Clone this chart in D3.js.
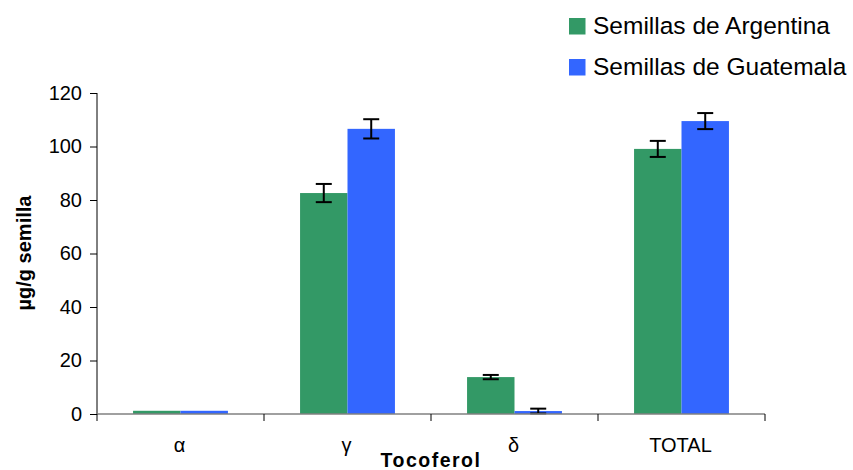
<!DOCTYPE html>
<html><head><meta charset="utf-8">
<script src="https://cdn.jsdelivr.net/npm/d3@7"></script>
<style>body{margin:0;background:#fff}svg{display:block;font-family:"Liberation Sans",Arial,sans-serif}</style>
</head><body><svg id="c" width="853" height="470"></svg>
<script>
const categories = ["α", "γ", "δ", "TOTAL"];
const seriesNames = ["Semillas de Argentina", "Semillas de Guatemala"];
const argentina = [1.2, 82.6, 13.8, 99.1];
const guatemala = [1.2, 106.6, 1.1, 109.5];
const argentinaErr = [0, 3.4, 0.8, 3.0];
const guatemalaErr = [0, 3.6, 0.9, 3.0];
const yTicks = [0, 20, 40, 60, 80, 100, 120];
const colors = ["#339966", "#3366FF"];

(function () {
const svg = d3.select("#c");
const mLeft = 97, mRight = 765, mTop = 93, mBottom = 414;
const x = d3.scaleBand().domain(categories).range([mLeft, mRight]).paddingInner(0).paddingOuter(0);
const xs = d3.scaleBand().domain([0, 1]).range([0, x.bandwidth()]).paddingInner(0).paddingOuter(0.76);
const y = d3.scaleLinear().domain([0, 120]).range([mBottom, mTop]);

const series = [argentina, guatemala];
const errs = [argentinaErr, guatemalaErr];

series.forEach((vals, si) => {
  svg.append("g").selectAll("rect").data(vals).join("rect")
    .attr("x", (d, i) => x(categories[i]) + xs(si))
    .attr("width", xs.bandwidth())
    .attr("y", d => y(d))
    .attr("height", d => y(0) - y(d))
    .attr("fill", colors[si]);
});

series.forEach((vals, si) => {
  const g = svg.append("g").attr("stroke", "#000").attr("stroke-width", 2);
  vals.forEach((v, i) => {
    const e = errs[si][i];
    if (!e) return;
    const cx = x(categories[i]) + xs(si) + xs.bandwidth() / 2;
    g.append("line").attr("x1", cx).attr("x2", cx).attr("y1", y(v + e)).attr("y2", y(v - e));
    g.append("line").attr("x1", cx - 8).attr("x2", cx + 8).attr("y1", y(v + e)).attr("y2", y(v + e));
    g.append("line").attr("x1", cx - 8).attr("x2", cx + 8).attr("y1", y(v - e)).attr("y2", y(v - e));
  });
});

const yAxis = d3.axisLeft(y).tickValues(yTicks).tickSize(7).tickPadding(8);
const ya = svg.append("g").attr("transform", `translate(${mLeft},0)`).call(yAxis);
ya.select(".domain").attr("stroke", "#000").attr("d", `M0,${mTop}V${mBottom}`);
ya.selectAll(".tick line").attr("stroke", "#000");
ya.selectAll("text").attr("font-size", 20).attr("fill", "#000").attr("font-family", "Liberation Sans, Arial, sans-serif");

const xa = svg.append("g").attr("transform", `translate(0,${mBottom})`);
xa.append("line").attr("x1", mLeft).attr("x2", mRight).attr("y1", 0).attr("y2", 0).attr("stroke", "#808080").attr("stroke-width", 1.5);
const bounds = categories.map(c => x(c)).concat([mRight]);
xa.selectAll("line.t").data(bounds).join("line").attr("class", "t")
  .attr("x1", d => d).attr("x2", d => d).attr("y1", 0).attr("y2", 7).attr("stroke", "#000");
xa.selectAll("text").data(categories).join("text")
  .attr("x", d => x(d) + x.bandwidth() / 2 - 1).attr("y", 38)
  .attr("text-anchor", "middle").attr("font-size", 20).text(d => d);

svg.append("text").attr("x", 431).attr("y", 467).attr("text-anchor", "middle")
  .attr("font-size", 19.5).attr("font-weight", "bold").attr("letter-spacing", 1.5).text("Tocoferol");
svg.append("text").attr("transform", "translate(31,253) rotate(-90)").attr("text-anchor", "middle")
  .attr("font-size", 20).attr("font-weight", "bold").text("µg/g semilla");

const lg = svg.append("g");
seriesNames.forEach((n, i) => {
  const yy = 18 + i * 41;
  lg.append("rect").attr("x", 569).attr("y", yy).attr("width", 16.5).attr("height", 16.5).attr("fill", colors[i]);
  lg.append("text").attr("x", 593).attr("y", yy + 15.5).attr("font-size", 24.5).text(n);
});
})();
</script></body></html>
